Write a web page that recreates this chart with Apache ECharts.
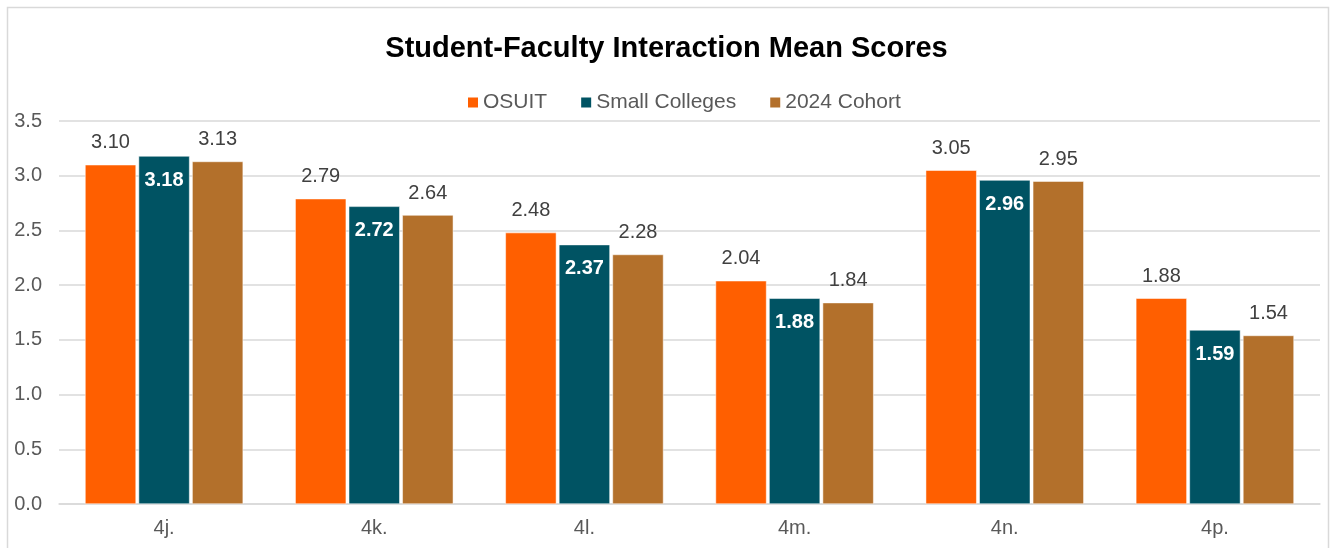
<!DOCTYPE html>
<html>
<head>
<meta charset="utf-8">
<script src="https://cdn.jsdelivr.net/npm/echarts@6/dist/echarts.min.js"></script>
<style>
  html, body { margin: 0; padding: 0; background: #fff; }
  #main { width: 1333px; height: 548px; }
</style>
</head>
<body>
<div id="main"></div>
<script>
var categories = ['4j.', '4k.', '4l.', '4m.', '4n.', '4p.'];
var osuit = [3.10, 2.79, 2.48, 2.04, 3.05, 1.88];
var smallColleges = [3.18, 2.72, 2.37, 1.88, 2.96, 1.59];
var cohort2024 = [3.13, 2.64, 2.28, 1.84, 2.95, 1.54];

var FONT = '"Liberation Sans", Arial, sans-serif';

function outsideLabel() {
	return {
		show : true,
		position : 'top',
		distance : 12,
		color : '#404040',
		fontSize : 20,
		fontFamily : FONT,
		formatter : function(p) { return p.value.toFixed(2); }
	};
}

var chart = echarts.init(document.getElementById('main'));
chart.setOption({
	animation : false,
	title : {
		text : 'Student-Faculty Interaction Mean Scores',
		left : 'center',
		top : 29,
		textStyle : {
			fontFamily : FONT,
			fontSize : 29,
			fontWeight : 'bold',
			color : '#000'
		}
	},
	legend : {
		top : 87,
		left : 461,
		itemWidth : 12,
		itemHeight : 12,
		itemGap : 32,
		icon : 'rect',
		textStyle : {
			fontFamily : FONT,
			fontSize : 21,
			color : '#595959',
			padding : [0, 0, 0, -1]
		},
		data : ['OSUIT', 'Small Colleges', '2024 Cohort']
	},
	graphic : [ {
		type : 'rect',
		shape : { x : 7.5, y : 7.5, width : 1321, height : 560 },
		style : { fill : 'none', stroke : '#d9d9d9', lineWidth : 1.5 },
		silent : true
	} ],
	grid : {
		left : 59,
		right : 13,
		top : 121,
		bottom : 44,
		containLabel : false
	},
	xAxis : {
		type : 'category',
		data : categories,
		axisLine : { show : true, lineStyle : { color : '#d9d9d9', width : 1.5 } },
		axisTick : { show : false },
		axisLabel : {
			fontFamily : FONT,
			fontSize : 20,
			color : '#595959',
			margin : 14
		}
	},
	yAxis : {
		type : 'value',
		min : 0,
		max : 3.5,
		interval : 0.5,
		axisLine : { show : false },
		axisTick : { show : false },
		splitLine : { lineStyle : { color : '#d9d9d9', width : 1.5 } },
		axisLabel : {
			fontFamily : FONT,
			fontSize : 20,
			color : '#595959',
			margin : 17,
			formatter : function(v) { return v.toFixed(1); }
		}
	},
	series : [ {
		name : 'OSUIT',
		type : 'bar',
		data : osuit,
		barWidth : 51,
		barGap : '5%',
		itemStyle : { color : '#FF5F00', borderColor : '#fff', borderWidth : 0.5 },
		label : outsideLabel()
	}, {
		name : 'Small Colleges',
		type : 'bar',
		data : smallColleges,
		barWidth : 51,
		barGap : '5%',
		itemStyle : { color : '#005363', borderColor : '#fff', borderWidth : 0.5 },
		label : {
			show : true,
			position : 'insideTop',
			distance : 14,
			color : '#fff',
			fontSize : 20,
			fontWeight : 'bold',
			fontFamily : FONT,
			formatter : function(p) { return p.value.toFixed(2); }
		}
	}, {
		name : '2024 Cohort',
		type : 'bar',
		data : cohort2024,
		barWidth : 51,
		barGap : '5%',
		itemStyle : { color : '#B3702B', borderColor : '#fff', borderWidth : 0.5 },
		label : outsideLabel()
	} ]
});
</script>
</body>
</html>
